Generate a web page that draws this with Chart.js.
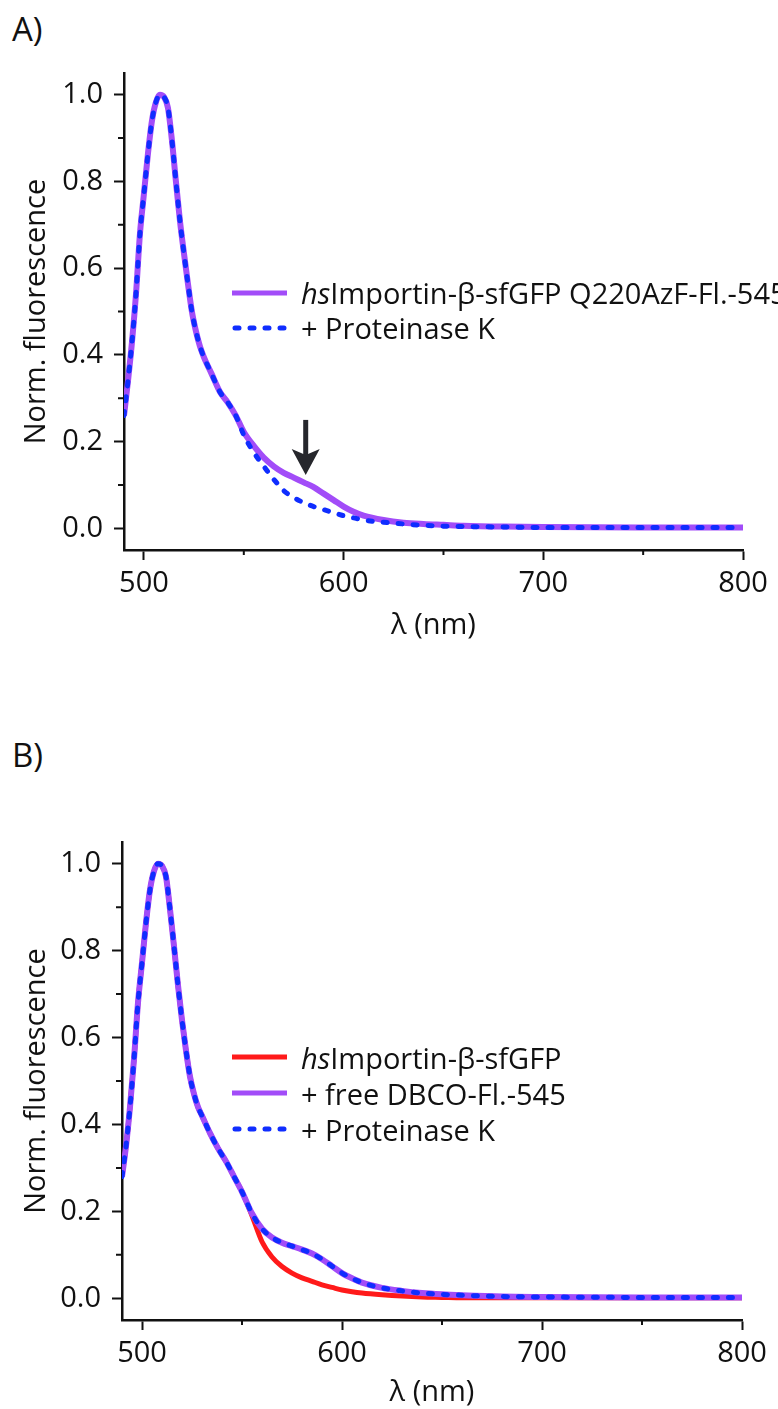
<!DOCTYPE html>
<html>
<head>
<meta charset="utf-8">
<script src="https://cdn.jsdelivr.net/npm/chart.js@4.4.0/dist/chart.umd.min.js"></script>
<style>
  html, body { margin: 0; padding: 0; background: #fff; }
  body { width: 778px; height: 1409px; overflow: hidden; position: relative; font-family: "Open Sans", sans-serif; color: #111; }
  .panel-label { position: absolute; left: 12px; font-size: 33px; line-height: 33px; }
  canvas { position: absolute; left: 0; }
  .legend { position: absolute; left: 232px; font-size: 29px; white-space: nowrap; }
  .legend .row { display: flex; align-items: center; }
  .legend svg { width: 55px; height: 10px; margin-right: 14px; flex: none; }
</style>
</head>
<body>
<div class="panel-label" style="top:12px">A)</div>
<canvas id="chartA" width="778" height="700" style="top:0"></canvas>
<div class="legend" id="legendA" style="top:275px"></div>

<div class="panel-label" style="top:738px">B)</div>
<canvas id="chartB" width="778" height="740" style="top:700px"></canvas>
<div class="legend" id="legendB" style="top:1039px"></div>

<script>
// emission wavelengths (nm)
const wavelengths = [490, 492, 494, 496, 498, 500, 502, 504, 506, 508, 510, 512, 514, 516, 518, 520, 522, 524, 526, 528, 530,
  534, 538, 542, 546, 550, 555, 560, 565, 570, 575, 580, 585, 590, 595, 600, 605, 610, 620, 630, 640, 650, 660, 680, 700, 750, 800];

// A) Q220AzF labelled with Fl.-545, before and after Proteinase K
const aLabeled = [0.26, 0.34, 0.43, 0.54, 0.68, 0.772, 0.864, 0.94, 0.983, 1.0, 0.995, 0.97, 0.895, 0.80, 0.71, 0.635, 0.565, 0.50, 0.455, 0.42, 0.395,
  0.355, 0.315, 0.29, 0.26, 0.222, 0.19, 0.163, 0.143, 0.128, 0.117, 0.106, 0.095, 0.080, 0.065, 0.050, 0.038, 0.029, 0.019, 0.013, 0.010, 0.008, 0.006, 0.004, 0.003, 0.002, 0.002];
const aProtK = [0.26, 0.34, 0.43, 0.54, 0.68, 0.772, 0.864, 0.94, 0.983, 1.0, 0.995, 0.97, 0.895, 0.80, 0.71, 0.635, 0.565, 0.50, 0.455, 0.42, 0.395,
  0.355, 0.315, 0.29, 0.26, 0.215, 0.175, 0.143, 0.113, 0.087, 0.071, 0.059, 0.050, 0.043, 0.036, 0.029, 0.024, 0.019, 0.014, 0.010, 0.007, 0.005, 0.004, 0.003, 0.002, 0.002, 0.002];

// B) wild type with free dye, then Proteinase K
const bGfp = [0.28, 0.35, 0.44, 0.55, 0.68, 0.772, 0.864, 0.94, 0.983, 1.0, 0.995, 0.97, 0.895, 0.81, 0.72, 0.64, 0.57, 0.51, 0.47, 0.44, 0.42,
  0.38, 0.345, 0.315, 0.28, 0.245, 0.19, 0.13, 0.095, 0.073, 0.058, 0.047, 0.039, 0.031, 0.025, 0.019, 0.015, 0.012, 0.008, 0.005, 0.003, 0.002, 0.001, 0.001, 0.001, 0.001, 0.001];
const bFreeDye = [0.28, 0.35, 0.44, 0.55, 0.68, 0.772, 0.864, 0.94, 0.983, 1.0, 0.995, 0.97, 0.895, 0.81, 0.72, 0.64, 0.57, 0.51, 0.47, 0.44, 0.42,
  0.38, 0.345, 0.315, 0.28, 0.245, 0.195, 0.16, 0.14, 0.128, 0.12, 0.112, 0.103, 0.09, 0.074, 0.058, 0.046, 0.036, 0.024, 0.017, 0.012, 0.009, 0.007, 0.004, 0.003, 0.002, 0.002];
const bProtK = [0.28, 0.35, 0.44, 0.55, 0.68, 0.772, 0.864, 0.94, 0.983, 1.0, 0.995, 0.97, 0.895, 0.81, 0.72, 0.64, 0.57, 0.51, 0.47, 0.44, 0.42,
  0.38, 0.345, 0.315, 0.28, 0.245, 0.195, 0.16, 0.14, 0.128, 0.12, 0.112, 0.103, 0.09, 0.074, 0.058, 0.046, 0.036, 0.024, 0.017, 0.012, 0.009, 0.007, 0.004, 0.003, 0.002, 0.002];

const xTicks = [500, 600, 700, 800];
const xMinorTicks = [550, 650, 750];
const yTicks = [0, 0.2, 0.4, 0.6, 0.8, 1.0];
const yMinorTicks = [0.1, 0.3, 0.5, 0.7, 0.9];

const PURPLE = '#a24cf8';
const BLUE = '#0f2dff';
const RED = '#ff1a1a';
const INK = '#111';
const font = { family: "'Open Sans', sans-serif", size: 29 };

function series(values, label, prefix, color, width, dash, order) {
  return {
    label: label,
    prefix: prefix,
    data: wavelengths.map((w, i) => ({ x: w, y: values[i] })),
    borderColor: color,
    borderWidth: width,
    borderDash: dash,
    borderCapStyle: dash.length ? 'round' : 'butt',
    pointRadius: 0,
    fill: false,
    cubicInterpolationMode: 'monotone',
    order: order
  };
}

// short minor ticks between the labelled ones
const minorTicks = {
  id: 'minorTicks',
  afterDraw(chart) {
    const { ctx, scales: { x, y } } = chart;
    ctx.save();
    ctx.strokeStyle = INK;
    ctx.lineWidth = 2;
    ctx.beginPath();
    xMinorTicks.forEach(v => {
      const px = x.getPixelForValue(v);
      ctx.moveTo(px, x.top);
      ctx.lineTo(px, x.top + 5);
    });
    yMinorTicks.forEach(v => {
      const py = y.getPixelForValue(v);
      ctx.moveTo(y.right, py);
      ctx.lineTo(y.right - 6, py);
    });
    ctx.stroke();
    ctx.restore();
  }
};

// downward arrow pointing at the dye shoulder
const arrowMark = {
  id: 'arrowMark',
  afterDatasetsDraw(chart, args, opts) {
    if (!opts.at) return;
    const { ctx, scales: { x, y } } = chart;
    const px = x.getPixelForValue(opts.at);
    const top = y.getPixelForValue(opts.from);
    const tip = y.getPixelForValue(opts.to);
    const headLen = 26, halfW = 14;
    ctx.save();
    ctx.fillStyle = '#26272c';
    ctx.fillRect(px - 2.5, top, 5, tip - top - headLen + 6);
    ctx.beginPath();
    ctx.moveTo(px, tip);
    ctx.lineTo(px - halfW, tip - headLen);
    ctx.lineTo(px, tip - headLen + 6);
    ctx.lineTo(px + halfW, tip - headLen);
    ctx.closePath();
    ctx.fill();
    ctx.restore();
  }
};

function makePanel(id, datasets, box, arrow) {
  return new Chart(document.getElementById(id), {
    type: 'line',
    data: { datasets: datasets },
    options: {
      responsive: false,
      animation: false,
      devicePixelRatio: 1,
      layout: { padding: box.padding },
      plugins: {
        legend: { display: false },
        tooltip: { enabled: false },
        arrowMark: arrow || {}
      },
      scales: {
        x: {
          type: 'linear',
          min: 490,
          max: 800,
          afterBuildTicks: s => { s.ticks = xTicks.map(v => ({ value: v })); },
          afterFit: s => { s.height = box.xAxisH; },
          grid: { drawOnChartArea: false, drawTicks: true, tickLength: 10, tickWidth: 2, tickColor: INK },
          border: { display: true, color: INK, width: 2.5 },
          ticks: { font: font, color: INK, padding: 6, maxRotation: 0, autoSkip: false, callback: v => String(v) },
          title: { display: true, text: 'λ (nm)', font: font, color: INK, padding: { top: 0, bottom: 0 } }
        },
        y: {
          type: 'linear',
          min: -0.05,
          max: 1.05,
          afterBuildTicks: s => { s.ticks = yTicks.map(v => ({ value: v })); },
          afterFit: s => { s.width = box.yAxisW; },
          grid: { drawOnChartArea: false, drawTicks: true, tickLength: 10, tickWidth: 2, tickColor: INK },
          border: { display: true, color: INK, width: 2.5 },
          ticks: { font: font, color: INK, padding: 11, callback: v => v.toFixed(1) },
          title: { display: true, text: 'Norm. fluorescence', font: font, color: INK, padding: { top: 19, bottom: 0 } }
        }
      }
    },
    plugins: [minorTicks, arrowMark]
  });
}

function buildLegend(elId, datasets, rowH) {
  const el = document.getElementById(elId);
  datasets.forEach(ds => {
    const row = document.createElement('div');
    row.className = 'row';
    row.style.height = rowH + 'px';
    const dash = ds.borderDash.length ? ` stroke-dasharray="${ds.borderDash.join(' ')}" stroke-linecap="round"` : '';
    row.innerHTML = `<svg viewBox="0 0 55 10"><line x1="${dash ? 3 : 0}" y1="5" x2="55" y2="5" stroke="${ds.borderColor}" stroke-width="5"${dash}/></svg>` +
      `<span>${ds.prefix ? '<i>' + ds.prefix + '</i>' : ''}${ds.label}</span>`;
    el.appendChild(row);
  });
}

const dsA = [
  series(aLabeled, 'Importin-β-sfGFP Q220AzF-Fl.-545', 'hs', PURPLE, 6, [], 2),
  series(aProtK, '+ Proteinase K', '', BLUE, 5, [4, 11], 1)
];
const dsB = [
  series(bGfp, 'Importin-β-sfGFP', 'hs', RED, 5, [], 3),
  series(bFreeDye, '+ free DBCO-Fl.-545', '', PURPLE, 6, [], 2),
  series(bProtK, '+ Proteinase K', '', BLUE, 5, [4, 11], 1)
];

makePanel('chartA', dsA, { padding: { top: 73, right: 35, bottom: 57, left: 0 }, xAxisH: 93, yAxisW: 124 },
  { at: 581, from: 0.25, to: 0.123 });
makePanel('chartB', dsB, { padding: { top: 142, right: 36, bottom: 30, left: 0 }, xAxisH: 90, yAxisW: 122 });

buildLegend('legendA', dsA, 35);
buildLegend('legendB', dsB, 36);
</script>
</body>
</html>
